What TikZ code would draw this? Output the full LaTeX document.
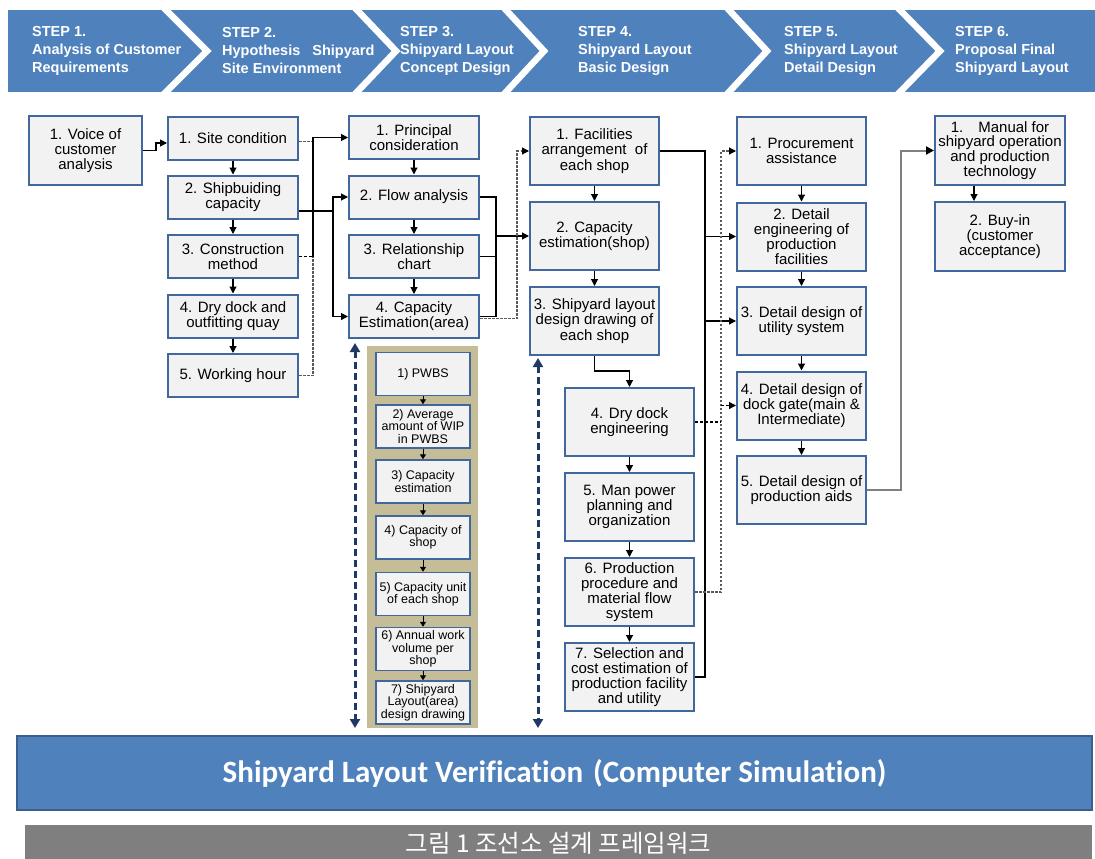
\documentclass[tikz,border=0pt]{standalone}
\usepackage{fontspec}
\setmainfont{Liberation Sans}
\newfontfamily\cjkfont{Noto Sans CJK KR}
\newfontfamily\barfont[Ligatures={NoCommon}]{Carlito}
\usetikzlibrary{arrows.meta,calc}

\definecolor{stepblue}{HTML}{4F81BD}
\definecolor{barline}{HTML}{3A5F8C}
\definecolor{boxline}{HTML}{41679C}
\definecolor{boxfill}{HTML}{F2F2F2}
\definecolor{panelfill}{HTML}{C4BD97}
\definecolor{navyline}{HTML}{1F3864}
\definecolor{capgray}{HTML}{7F7F7F}
\definecolor{linkgray}{HTML}{808080}
\definecolor{dashgray}{HTML}{5A5A5A}

\tikzset{
  steptext/.style={font=\bfseries\fontsize{14.5}{18}\selectfont, text=white, align=left, inner sep=0pt, anchor=west},
  box/.style={draw=boxline, line width=2pt, fill=boxfill, align=center, inner sep=1pt, text=black,
              font=\fontsize{15}{15.2}\selectfont},
  sbox/.style={box, minimum width=130pt, minimum height=43pt},
  tbox/.style={box, minimum width=129pt, minimum height=68pt},
  pbox/.style={box, line width=1.5pt, minimum width=94pt, minimum height=43pt,
               font=\fontsize{12.5}{12.3}\selectfont},
  line/.style={line width=1.1pt, black},
  conn/.style={line, -{Triangle[length=7pt,width=7pt]}},
  pconn/.style={line width=1pt, black, -{Triangle[length=5pt,width=6pt]}},
  dgray/.style={line width=1.2pt, dashgray, dash pattern=on 2.5pt off 1.5pt},
  dblk/.style={line width=1.1pt, black, dash pattern=on 3pt off 2pt},
  dconn/.style={dgray, -{Triangle[length=7pt,width=7pt,color=black]}},
  dconnb/.style={dblk, -{Triangle[length=7pt,width=7pt]}},
  gconn/.style={line width=2pt, linkgray, -{Triangle[length=8pt,width=8pt,color=black]}},
  nav/.style={line width=3pt, navyline, dash pattern=on 7pt off 4pt,
              {Triangle[length=9pt,width=10pt]}-{Triangle[length=9pt,width=10pt]}},
}

\begin{document}
\begin{tikzpicture}[x=1pt,y=-1pt]
\useasboundingbox (0,0) rectangle (1095,859);
\fill[white] (0,0) rectangle (1095,859);

% ---- step banner ----
\fill[stepblue] (8,10) rectangle (1095,92);
\foreach \a/\b in {166/207, 357/396, 506/544, 729/767, 900/940}
  \draw[white, line width=6.5pt]
    ($(\a,10)!-0.15!(\b,51)$) -- (\b,51) -- ($(\a,92)!-0.15!(\b,51)$);
\node[steptext] (st1) at (32,51) {STEP 1.\\Analysis of Customer\\Requirements};
\node[steptext] (st2) at (222,51) {STEP 2.\\Hypothesis\hspace{12pt}Shipyard\\Site Environment};
\node[steptext] (st3) at (400,51) {STEP 3.\\Shipyard Layout\\Concept Design};
\node[steptext] (st4) at (578,51) {STEP 4.\\Shipyard Layout\\Basic Design};
\node[steptext] (st5) at (784,51) {STEP 5.\\Shipyard Layout\\Detail Design};
\node[steptext] (st6) at (955,51) {STEP 6.\\Proposal Final\\Shipyard Layout};

% ---- step 1 ----
\node[box, minimum width=113pt, minimum height=69pt] (voice) at (85.5,150.5) {1. Voice of\\customer\\analysis};

% ---- step 2 ----
\node[sbox] (c21) at (233,138) {1. Site condition};
\node[sbox] (c22) at (233,197) {2. Shipbuiding\\capacity};
\node[sbox] (c23) at (233,256.5) {3. Construction\\method};
\node[sbox] (c24) at (233,316) {4. Dry dock and\\outfitting quay};
\node[sbox] (c25) at (233,375.5) {5. Working hour};

% ---- step 3 ----
\node[sbox] (c31) at (414,137.5) {1. Principal\\consideration};
\node[sbox] (c32) at (414,197) {2. Flow analysis};
\node[sbox] (c33) at (414,256.5) {3. Relationship\\chart};
\node[sbox] (c34) at (414,316.5) {4. Capacity\\Estimation(area)};

% capacity estimation breakdown
\node[fill=panelfill, minimum width=111pt, minimum height=382pt, inner sep=0pt] (panel) at (422.5,537) {};
\node[pbox] (p1) at (423,374) {1) PWBS};
\node[pbox] (p2) at (423,426.5) {2) Average\\amount of WIP\\in PWBS};
\node[pbox] (p3) at (423,481.5) {3) Capacity\\estimation};
\node[pbox] (p4) at (423,537.5) {4) Capacity of\\shop};
\node[pbox] (p5) at (423,594) {5) Capacity unit\\of each shop};
\node[pbox] (p6) at (423,649) {6) Annual work\\volume per\\shop};
\node[pbox] (p7) at (423,702.5) {7) Shipyard\\Layout(area)\\design drawing};

% ---- step 4 ----
\node[tbox] (c41) at (594.5,151) {1. Facilities\\arrangement~ of\\each shop};
\node[tbox] (c42) at (594.5,236) {2. Capacity\\estimation(shop)};
\node[tbox] (c43) at (594.5,321) {3. Shipyard layout\\design drawing of\\each shop};
\node[tbox] (c44) at (629.5,422) {4. Dry dock\\engineering};
\node[tbox] (c45) at (629.5,507) {5. Man power\\planning and\\organization};
\node[tbox] (c46) at (629.5,592) {6. Production\\procedure and\\material flow\\system};
\node[tbox] (c47) at (629.5,677) {7. Selection and\\cost estimation of\\production facility\\and utility};

% ---- step 5 ----
\node[tbox] (c51) at (801.5,151) {1. Procurement\\assistance};
\node[tbox] (c52) at (801.5,236.5) {2. Detail\\engineering of\\production\\facilities};
\node[tbox] (c53) at (801.5,321) {3. Detail design of\\utility system};
\node[tbox] (c54) at (801.5,405.5) {4. Detail design of\\dock gate(main \&\\Intermediate)};
\node[tbox] (c55) at (801.5,490) {5. Detail design of\\production aids};

% ---- step 6 ----
\node[tbox, minimum width=130pt, minimum height=69pt, font=\fontsize{15}{13.6}\selectfont] (c61) at (1000,150.5)
  {1.\hspace{15pt}Manual for\\shipyard operation\\and production\\technology};
\node[tbox, minimum width=130pt, minimum height=69pt] (c62) at (1000,236.5) {2. Buy-in\\(customer\\acceptance)};

% ---- verification and caption bars ----
\node[fill=stepblue, draw=barline, line width=2pt, minimum width=1075pt, minimum height=74pt, inner sep=0pt,
      text=white, font=\barfont\bfseries\fontsize{31}{33}\selectfont] (bar) at (554.5,773)
  {Shipyard Layout Verification\hspace{10pt}(Computer Simulation)};
\node[fill=capgray, minimum width=1067pt, minimum height=36pt, inner sep=0pt, text=white,
      font=\cjkfont\fontsize{24.5}{26}\selectfont] (cap) at (558.5,843) {그림 1 조선소 설계 프레임워크};

% ---- junction columns ----
\coordinate (jA) at (313,0);
\coordinate (jB) at (333,0);
\coordinate (jC) at (496,0);
\coordinate (jD) at (517,0);
\coordinate (jE) at (705,0);
\coordinate (jF) at (721,0);
\coordinate (jG) at (901,0);
\coordinate (jL) at (355,0);
\coordinate (jR) at (538,0);

% step 1 -> step 2
\draw[conn] (voice.east) -- ++(13,0) |- ([yshift=-5pt]c21.west);

% step 2 chain
\draw[conn] (c21.south) -- (c22.north);
\draw[conn] (c22.south) -- (c23.north);
\draw[conn] (c23.south) -- (c24.north);
\draw[conn] (c24.south) -- (c25.north);

% step 2 -> step 3
\draw[dgray] ([yshift=-3.5pt]c21.east) -- ([yshift=-3.5pt]c21.east -| jA);
\draw[dgray] (c25.east) -| (jA |- c23.east);
\draw[dblk] (c23.east) -- (jA |- c23.east);
\draw[conn] (jA |- c23.east) |- (c31.west);
\coordinate (kB) at ([yshift=-14pt]c22.east -| jB);
\draw[line] ([yshift=-14pt]c22.east) -- (kB);
\draw[conn] (kB) |- (c32.west);
\draw[conn] (kB) |- (c34.west);

% step 3 chain
\draw[conn] (c31.south) -- (c32.north);
\draw[conn] (c32.south) -- (c33.north);
\draw[conn] (c33.south) -- (c34.north);

% breakdown chain
\draw[pconn] (p1.south) -- (p2.north);
\draw[pconn] (p2.south) -- (p3.north);
\draw[pconn] (p3.south) -- (p4.north);
\draw[pconn] (p4.south) -- (p5.north);
\draw[pconn] (p5.south) -- (p6.north);
\draw[pconn] (p6.south) -- (p7.north);

% step 3 -> step 4
\draw[line] (c32.east) -| (jC |- c34.east) -- (c34.east);
\draw[line] (c33.east) -- (jC |- c33.east);
\draw[conn] (jC |- c42.west) -- (c42.west);
\draw[dconn] ([yshift=-2pt]c34.east) -| (jD |- c41.west) -- (c41.west);

% step 4 chain
\draw[conn] (c41.south) -- (c42.north);
\draw[conn] (c42.south) -- (c43.north);
\draw[conn] (c43.south) -- ++(0,15) -| (c44.north);
\draw[conn] (c44.south) -- (c45.north);
\draw[conn] (c45.south) -- (c46.north);
\draw[conn] (c46.south) -- (c47.north);

% step 4 -> step 5
\draw[line] (c41.east) -| (jE |- c47.east) -- (c47.east);
\draw[conn] (jE |- c52.west) -- (c52.west);
\draw[conn] (jE |- c53.west) -- (c53.west);
\draw[dconn] (c46.east) -| (jF |- c51.west) -- (c51.west);
\draw[dblk] (c44.east) -- (jF |- c44.east);
\draw[dconnb] (jF |- c54.west) -- (c54.west);

% step 5 chain
\draw[conn] (c51.south) -- (c52.north);
\draw[conn] (c52.south) -- (c53.north);
\draw[conn] (c53.south) -- (c54.north);
\draw[conn] (c54.south) -- (c55.north);

% step 5 -> step 6
\draw[gconn] (c55.east) -| (jG |- c61.west) -- (c61.west);
\draw[conn] ([xshift=-26pt]c61.south) -- ([xshift=-26pt]c62.north);

% verification feedback
\draw[nav, shorten <=4pt, shorten >=7pt] (jL |- c34.south) -- (jL |- bar.north);
\draw[nav, shorten <=2pt, shorten >=7pt] (jR |- c43.south) -- (jR |- bar.north);
\end{tikzpicture}
\end{document}
